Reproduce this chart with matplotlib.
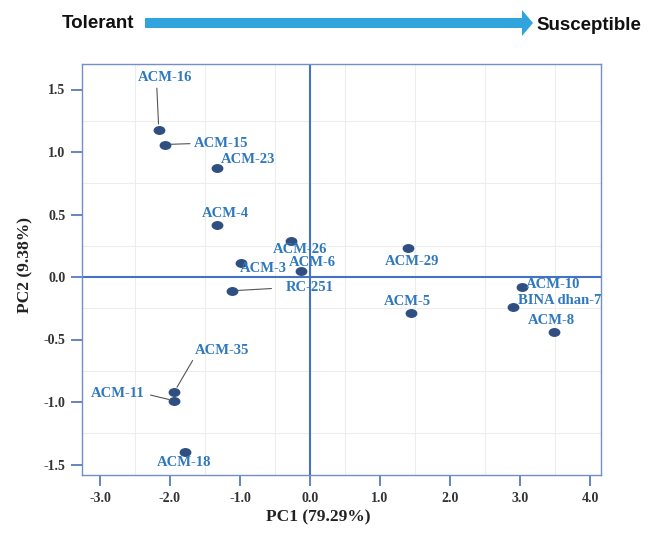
import matplotlib
matplotlib.use("Agg")
import matplotlib.pyplot as plt
from matplotlib.path import Path
from matplotlib.patches import FancyArrow
from matplotlib.ticker import MultipleLocator, FormatStrFormatter
import numpy as np

# ---- data ----
genotypes = ["ACM-16", "ACM-15", "ACM-23", "ACM-4", "ACM-26", "ACM-3", "ACM-6", "RC-251",
             "ACM-29", "ACM-5", "ACM-10", "BINA dhan-7", "ACM-8", "ACM-35", "ACM-11", "ACM-18"]
pc1 = [-2.16, -2.07, -1.33, -1.33, -0.27, -0.99, -0.13, -1.11,
       1.40, 1.44, 3.03, 2.90, 3.49, -1.94, -1.94, -1.79]
pc2 = [1.18, 1.06, 0.87, 0.42, 0.29, 0.11, 0.05, -0.11,
       0.23, -0.29, -0.08, -0.24, -0.44, -0.92, -0.99, -1.40]
x_ticks = [-3.0, -2.0, -1.0, 0.0, 1.0, 2.0, 3.0, 4.0]
y_ticks = [-1.5, -1.0, -0.5, 0.0, 0.5, 1.0, 1.5]
x_label = "PC1 (79.29%)"
y_label = "PC2 (9.38%)"

# label placement: (dx, dy in pixels, ha, connector relpos or None, shrinkA)
label_style = {
    "ACM-16": (6, 52, "center", (0.35, 0.0), 1),
    "ACM-15": (29, 1, "left", (0.0, 0.5), 1),
    "ACM-23": (4, 9, "left", None, 0),
    "ACM-4": (9, 11, "center", None, 0),
    "ACM-26": (9, -9, "center", None, 0),
    "ACM-3": (23, -5, "center", None, 0),
    "ACM-6": (11, 8, "center", None, 0),
    "RC-251": (77, 3, "center", (0.0, 0.5), 8),
    "ACM-29": (4, -13, "center", None, 0),
    "ACM-5": (-3, 12, "center", None, 0),
    "ACM-10": (4, 2, "left", None, 0),
    "BINA dhan-7": (5, 6, "left", None, 0),
    "ACM-8": (-3, 12, "center", None, 0),
    "ACM-35": (48, 42, "center", (0.02, 0.15), 1),
    "ACM-11": (-56, 7, "center", (1.0, 0.5), 2),
    "ACM-18": (-1, -11, "center", None, 0),
}

W, H = 660, 536
fig = plt.figure(figsize=(W / 100, H / 100), dpi=100)
ax = fig.add_axes([82 / W, 1 - 475 / H, (601 - 82) / W, (475 - 64) / H])

ax.set_xlim(-3.257, 4.157)
ax.set_ylim(-1.584, 1.704)

spine_col = "#7090c8"
for s in ax.spines.values():
    s.set_color(spine_col)
    s.set_linewidth(1.0)

ax.xaxis.set_minor_locator(MultipleLocator(0.5))
ax.yaxis.set_minor_locator(MultipleLocator(0.25))
ax.grid(which="minor", color="#ededed", linewidth=0.8)
ax.set_axisbelow(True)

ax.axhline(0, color="#4472c4", lw=1.5, zorder=2)
ax.axvline(0, color="#4472c4", lw=1.5, zorder=2)

ax.set_xticks(x_ticks)
ax.set_yticks(y_ticks)
ax.xaxis.set_major_formatter(FormatStrFormatter("%.1f"))
ax.yaxis.set_major_formatter(FormatStrFormatter("%.1f"))
ax.tick_params(which="major", direction="out", length=8, width=1.2, color="#4a70b8",
               labelsize=10, labelcolor="#333333", pad=4)
ax.tick_params(which="minor", length=0)
for lab in ax.get_xticklabels() + ax.get_yticklabels():
    lab.set_fontfamily("Liberation Serif")
    lab.set_fontweight("bold")

# ellipse marker
circ = Path.unit_circle()
ell = Path(circ.vertices * np.array([1.0, 0.72]), circ.codes)
ax.plot(pc1, pc2, linestyle="none", marker=ell, markersize=7.5,
        color="#2f4f80", markeredgecolor="#2f4f80", zorder=4)

lab_col = "#2f78bd"
for name, x, y in zip(genotypes, pc1, pc2):
    dx, dy, ha, relpos, shA = label_style[name]
    kw = {}
    if relpos is not None:
        kw["arrowprops"] = dict(arrowstyle="-", color="#555555", lw=0.8,
                                relpos=relpos, shrinkA=shA, shrinkB=4)
    ax.annotate(name, (x, y), xytext=(dx, dy), textcoords="offset pixels",
                ha=ha, va="center", fontsize=10.5, fontweight="bold",
                fontfamily="Liberation Serif", color=lab_col, zorder=5, **kw)

fig.text(318 / W, 1 - 517 / H, x_label, ha="center", va="center", fontsize=12.5,
         fontweight="bold", fontfamily="Liberation Serif", color="#222222")
fig.text(25 / W, 1 - 265 / H, y_label, ha="center", va="center", fontsize=12.5,
         fontweight="bold", fontfamily="Liberation Serif", color="#222222", rotation=90)

# top arrow
arrow = FancyArrow(145 / W, 1 - 23 / H, (533 - 145) / W, 0, width=10 / H,
                   head_width=26 / H, head_length=11 / W, length_includes_head=True,
                   transform=fig.transFigure, color="#30a5dd", lw=0)
fig.add_artist(arrow)
fig.text(62 / W, 1 - 23 / H, "Tolerant", ha="left", va="center", fontsize=13.5,
         fontweight="bold", fontfamily="Liberation Sans", color="#111111")
fig.text(536 / W, 1 - 25 / H, "Susceptible", ha="left", va="center", fontsize=13.5,
         fontweight="bold", fontfamily="Liberation Sans", color="#111111")

fig.savefig("out.png", dpi=100)
